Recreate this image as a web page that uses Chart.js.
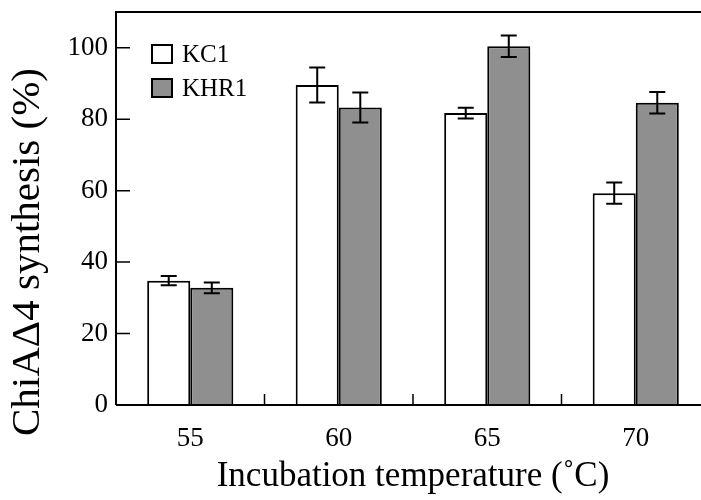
<!DOCTYPE html>
<html>
<head>
<meta charset="utf-8">
<script src="https://cdn.jsdelivr.net/npm/chart.js@4"></script>
<style>
  html, body { margin: 0; padding: 0; background: #fff; overflow: hidden; }
  #wrap { width: 712px; height: 500px; }
</style>
</head>
<body>
<div id="wrap"><canvas id="chart" width="712" height="500"></canvas></div>
<script>
// ===== DATA =====
const categories = ['55', '60', '65', '70'];
const kc1 = [34.8, 89.6, 81.7, 59.3];
const kc1Err = [1.3, 4.9, 1.5, 3.0];
const khr1 = [32.8, 83.3, 100.4, 84.6];
const khr1Err = [1.5, 4.2, 3.0, 3.0];
const yTicks = [0, 20, 40, 60, 80, 100];
const yTitle = 'ChiAΔ4 synthesis (%)';
const xTitle = 'Incubation temperature (˚C)';

const serif = '"Liberation Serif", "DejaVu Serif", serif';
const gray = '#8f8f8f';

// error bars from the data arrays, placed through the scales
const errorBars = {
  id: 'errorBars',
  afterDatasetsDraw(chart) {
    const ctx = chart.ctx, y = chart.scales.y;
    chart.data.datasets.forEach((ds, di) => {
      chart.getDatasetMeta(di).data.forEach((bar, i) => {
        const v = ds.data[i], e = ds.err[i];
        const top = y.getPixelForValue(v + e), bot = y.getPixelForValue(v - e);
        ctx.save();
        ctx.strokeStyle = '#000'; ctx.lineWidth = 2;
        ctx.beginPath();
        ctx.moveTo(bar.x, top); ctx.lineTo(bar.x, bot);
        ctx.moveTo(bar.x - 8, top); ctx.lineTo(bar.x + 8, top);
        ctx.moveTo(bar.x - 8, bot); ctx.lineTo(bar.x + 8, bot);
        ctx.stroke();
        ctx.restore();
      });
    });
  }
};

// frame, inward ticks, y title and legend
const frame = {
  id: 'frame',
  afterDraw(chart) {
    const ctx = chart.ctx, a = chart.chartArea, x = chart.scales.x, y = chart.scales.y;
    ctx.save();
    ctx.strokeStyle = '#000'; ctx.lineWidth = 2;
    ctx.beginPath();
    ctx.moveTo(a.left, a.bottom); ctx.lineTo(a.left, a.top); ctx.lineTo(a.right, a.top);
    ctx.moveTo(a.left, a.bottom); ctx.lineTo(a.right, a.bottom);
    ctx.stroke();
    ctx.lineWidth = 1.5;
    ctx.beginPath();
    yTicks.forEach(v => {
      const py = y.getPixelForValue(v);
      ctx.moveTo(a.left, py); ctx.lineTo(a.left + 14, py);
    });
    for (let i = 0; i < categories.length - 1; i++) {
      const px = (x.getPixelForValue(i) + x.getPixelForValue(i + 1)) / 2;
      ctx.moveTo(px, a.bottom); ctx.lineTo(px, a.bottom - 11);
    }
    ctx.stroke();

    // y title (sits lower than the axis centre in the original)
    ctx.save();
    ctx.translate(28, 252);
    ctx.rotate(-Math.PI / 2);
    ctx.font = '41px ' + serif;
    ctx.fillStyle = '#000';
    ctx.textAlign = 'center';
    ctx.textBaseline = 'middle';
    ctx.fillText(yTitle, 0, 0);
    ctx.restore();

    // legend
    ctx.font = '25px ' + serif;
    ctx.textBaseline = 'middle';
    chart.data.datasets.forEach((ds, i) => {
      const bx = 152, by = 45 + i * 34;
      ctx.fillStyle = ds.backgroundColor;
      ctx.fillRect(bx, by, 20, 18);
      ctx.lineWidth = 2; ctx.strokeStyle = '#000';
      ctx.strokeRect(bx, by, 20, 18);
      ctx.fillStyle = '#000';
      ctx.fillText(ds.label, 182, by + 10);
    });
    ctx.restore();
  }
};

new Chart(document.getElementById('chart'), {
  type: 'bar',
  data: {
    labels: categories,
    datasets: [
      { label: 'KC1', data: kc1, err: kc1Err, backgroundColor: '#ffffff', borderColor: '#000', borderWidth: 2 },
      { label: 'KHR1', data: khr1, err: khr1Err, backgroundColor: gray, borderColor: '#000', borderWidth: 2 }
    ]
  },
  options: {
    responsive: false,
    animation: false,
    layout: { padding: { left: 0, top: 12, right: 2, bottom: 0 } },
    categoryPercentage: 0.58,
    barPercentage: 1.0,
    plugins: { legend: { display: false }, tooltip: { enabled: false } },
    scales: {
      x: {
        grid: { display: false, drawTicks: false },
        border: { display: false },
        ticks: { color: '#000', font: { family: serif, size: 27 }, padding: 18 },
        title: { display: true, text: xTitle, color: '#000', font: { family: serif, size: 35 }, padding: { top: 0, bottom: 2 } },
        afterFit(s) { s.height = 95; }
      },
      y: {
        min: 0, max: 110,
        grid: { display: false, drawTicks: false },
        border: { display: false },
        afterBuildTicks(s) { s.ticks = yTicks.map(v => ({ value: v })); },
        ticks: { color: '#000', font: { family: serif, size: 27 }, padding: 8 },
        afterFit(s) { s.width = 116; s.paddingTop = 0; }
      }
    }
  },
  plugins: [errorBars, frame]
});
</script>
</body>
</html>
